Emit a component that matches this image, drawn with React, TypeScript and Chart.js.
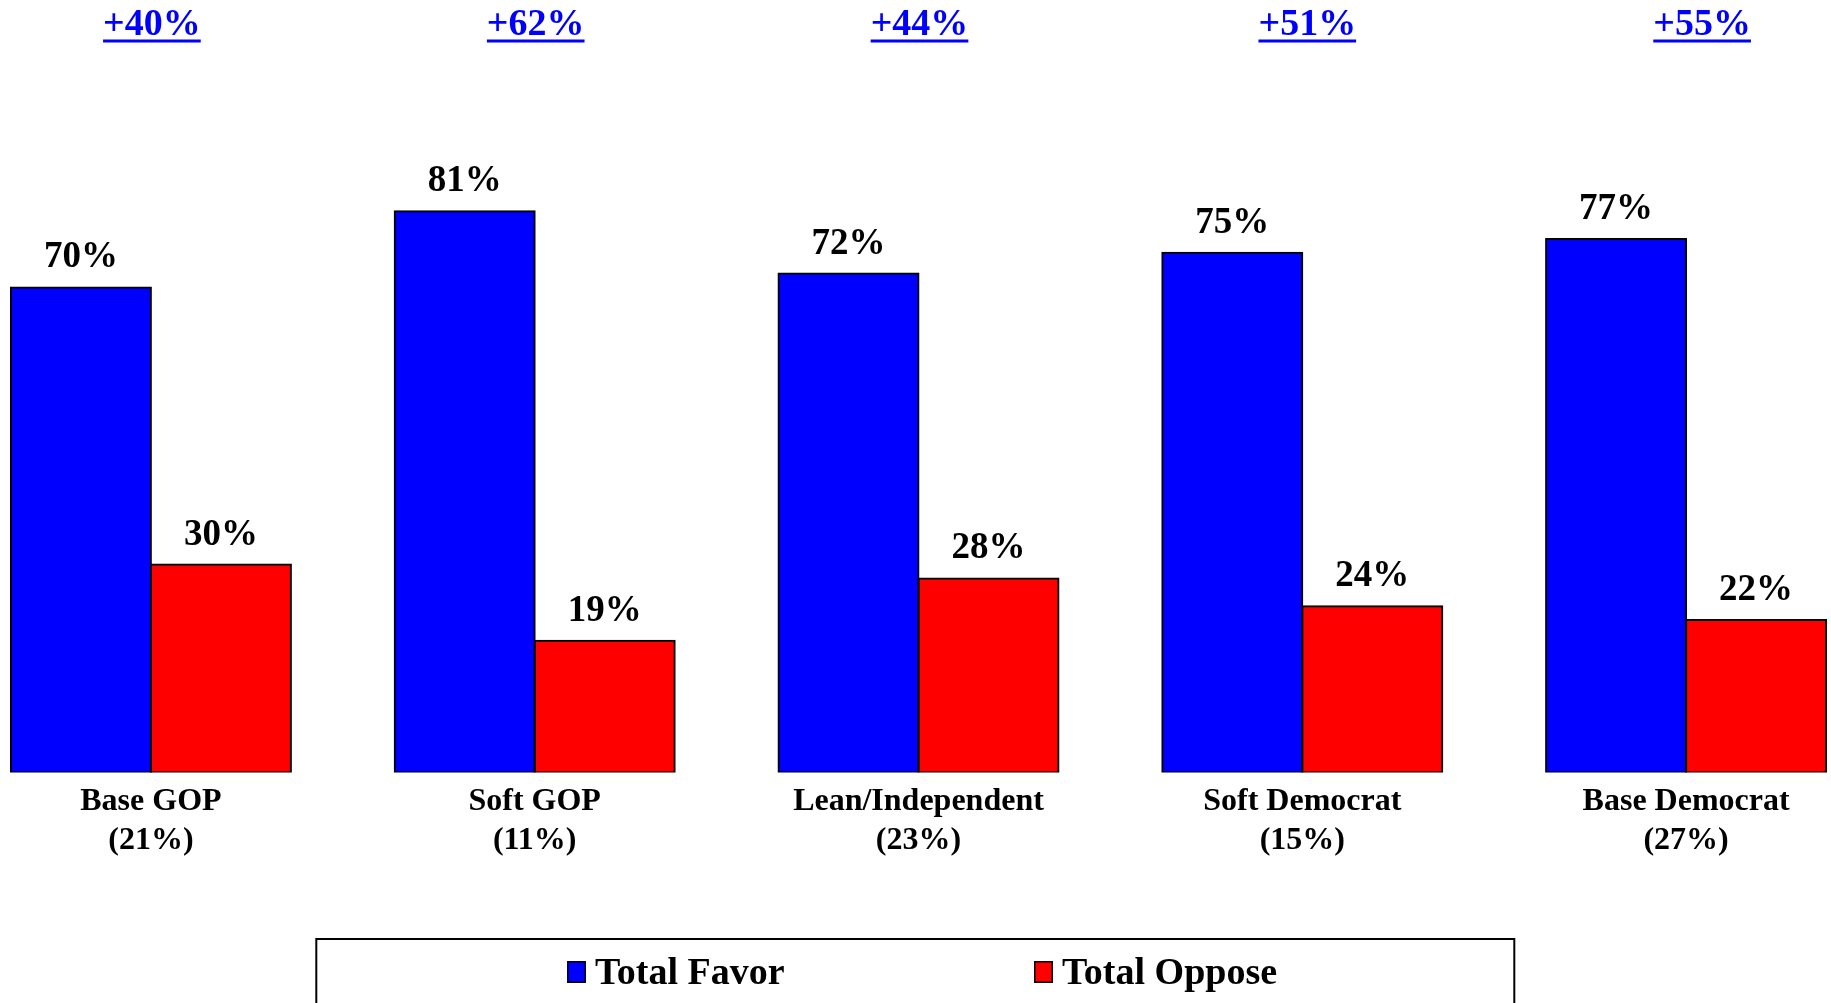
import React, { useEffect, useRef } from 'react';
import { Chart, registerables } from 'chart.js';

Chart.register(...registerables);

// ---- data ----
const categories = ['Base GOP', 'Soft GOP', 'Lean/Independent', 'Soft Democrat', 'Base Democrat'];
const groupShares = ['(21%)', '(11%)', '(23%)', '(15%)', '(27%)'];
const totalFavor = [70, 81, 72, 75, 77];
const totalOppose = [30, 19, 28, 24, 22];
const netMargin = [40, 62, 44, 51, 55];
const seriesNames = ['Total Favor', 'Total Oppose'];
const seriesColors = ['#0000FF', '#FF0000'];

// ---- layout constants ----
const FONT = "'Liberation Serif', 'Times New Roman', Times, serif";
const PAGE_W = 1831;
const PAGE_H = 1003;
const CANVAS_W = 1919;
const SHIFT = 41;
const LEGEND_ITEM_X = [567, 1034];
const NET_LABEL_NUDGE = [1, 1, 1, 5, 16];

const overlayPlugin = {
  id: 'overlayLabels',
  afterDatasetsDraw(chart: any) {
    const ctx = chart.ctx as CanvasRenderingContext2D;
    ctx.save();
    // value labels above bars
    ctx.fillStyle = '#000';
    ctx.font = `bold 37px ${FONT}`;
    ctx.textAlign = 'center';
    ctx.textBaseline = 'alphabetic';
    chart.data.datasets.forEach((ds: any, di: number) => {
      const meta = chart.getDatasetMeta(di);
      meta.data.forEach((bar: any, i: number) => {
        ctx.fillText(`${ds.data[i]}%`, bar.x, bar.y - 20);
      });
    });
    // net margin labels (blue, underlined)
    const xs = chart.scales.x;
    ctx.fillStyle = '#0000FF';
    ctx.font = `bold 38px ${FONT}`;
    netMargin.forEach((v, i) => {
      const x = xs.getPixelForValue(i) + NET_LABEL_NUDGE[i];
      const t = `+${v}%`;
      ctx.fillText(t, x, 35);
      const w = ctx.measureText(t).width;
      ctx.fillRect(x - w / 2, 39.5, w, 3);
    });
    // legend (page coordinates)
    ctx.translate(SHIFT, 0);
    ctx.strokeStyle = '#000';
    ctx.lineWidth = 2;
    ctx.strokeRect(316.3, 939, 1198, 140);
    chart.data.datasets.forEach((ds: any, di: number) => {
      const x0 = LEGEND_ITEM_X[di];
      ctx.fillStyle = ds.backgroundColor;
      ctx.fillRect(x0, 961, 19, 22);
      ctx.lineWidth = 1.5;
      ctx.strokeRect(x0 + 0.75, 961.75, 17.5, 20.5);
      ctx.fillStyle = '#000';
      ctx.textAlign = 'left';
      ctx.font = `bold 38px ${FONT}`;
      ctx.fillText(ds.label, x0 + 28, 984);
    });
    ctx.restore();
  },
};

export default function App() {
  const ref = useRef<HTMLCanvasElement | null>(null);

  useEffect(() => {
    if (!ref.current) return;
    const chart = new Chart(ref.current, {
      type: 'bar',
      data: {
        labels: categories.map((c, i) => [c, groupShares[i]]),
        datasets: [
          {
            label: seriesNames[0],
            data: totalFavor,
            backgroundColor: seriesColors[0],
            borderColor: '#000',
            borderWidth: 2,
            borderSkipped: false,
            inflateAmount: 1,
          },
          {
            label: seriesNames[1],
            data: totalOppose,
            backgroundColor: seriesColors[1],
            borderColor: '#000',
            borderWidth: 2,
            borderSkipped: false,
            inflateAmount: 1,
          },
        ],
      },
      options: {
        animation: false,
        responsive: false,
        devicePixelRatio: 1,
        events: [],
        layout: { padding: { top: 79.5, bottom: 132.7, left: 0, right: 0 } },
        datasets: {
          bar: { categoryPercentage: 0.7296, barPercentage: 1 },
        },
        plugins: {
          legend: { display: false },
          tooltip: { enabled: false },
          title: { display: false },
        },
        scales: {
          x: {
            grid: { display: false, drawTicks: false },
            border: { display: false },
            ticks: {
              color: '#000',
              font: { family: FONT, size: 32, weight: 'bold', lineHeight: 1.2 },
              padding: 10.5,
              maxRotation: 0,
              minRotation: 0,
              autoSkip: false,
            },
          },
          y: {
            display: false,
            min: 0,
            max: 100,
            grid: { display: false },
          },
        },
      },
      plugins: [overlayPlugin],
    } as any);
    return () => chart.destroy();
  }, []);

  return (
    <div
      style={{
        position: 'absolute',
        left: 0,
        top: 0,
        width: PAGE_W,
        height: PAGE_H,
        overflow: 'hidden',
        background: '#fff',
      }}
    >
      <canvas
        ref={ref}
        width={CANVAS_W}
        height={PAGE_H}
        style={{ position: 'absolute', left: -SHIFT, top: 0, width: CANVAS_W, height: PAGE_H }}
      />
    </div>
  );
}
